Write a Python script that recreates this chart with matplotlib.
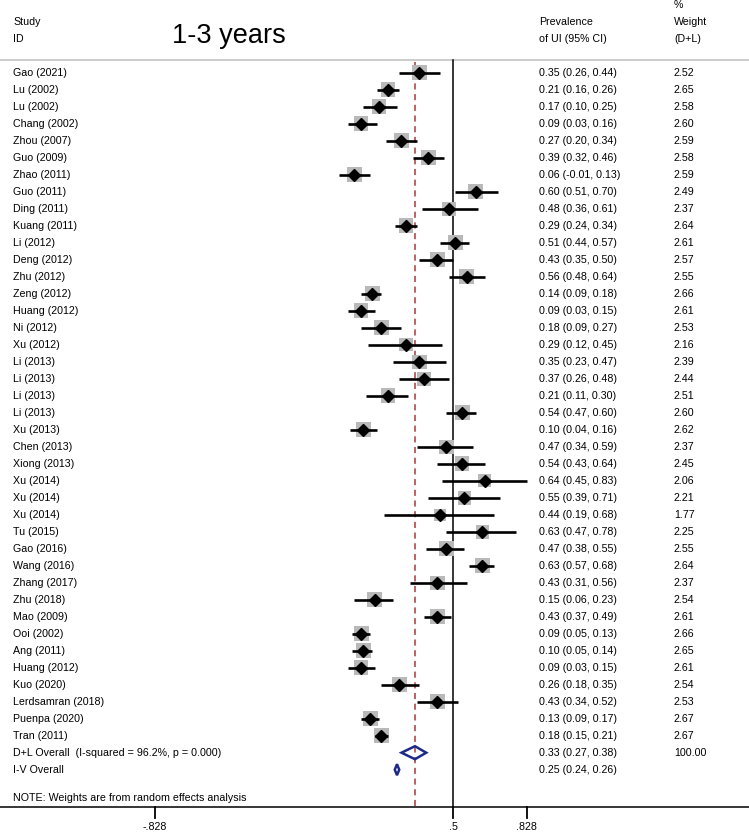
import numpy as np
import matplotlib.pyplot as plt
from matplotlib.patches import Rectangle, Polygon

plt.rcParams['font.family'] = ['Liberation Sans', 'DejaVu Sans']

# Study data
studies = ["Gao (2021)", "Lu (2002)", "Lu (2002)", "Chang (2002)", "Zhou (2007)",
           "Guo (2009)", "Zhao (2011)", "Guo (2011)", "Ding (2011)", "Kuang (2011)",
           "Li (2012)", "Deng (2012)", "Zhu (2012)", "Zeng (2012)", "Huang (2012)",
           "Ni (2012)", "Xu (2012)", "Li (2013)", "Li (2013)", "Li (2013)",
           "Li (2013)", "Xu (2013)", "Chen (2013)", "Xiong (2013)", "Xu (2014)",
           "Xu (2014)", "Xu (2014)", "Tu (2015)", "Gao (2016)", "Wang (2016)",
           "Zhang (2017)", "Zhu (2018)", "Mao (2009)", "Ooi (2002)", "Ang (2011)",
           "Huang (2012)", "Kuo (2020)", "Lerdsamran (2018)", "Puenpa (2020)", "Tran (2011)"]
es = [0.35, 0.21, 0.17, 0.09, 0.27, 0.39, 0.06, 0.60, 0.48, 0.29,
      0.51, 0.43, 0.56, 0.14, 0.09, 0.18, 0.29, 0.35, 0.37, 0.21,
      0.54, 0.10, 0.47, 0.54, 0.64, 0.55, 0.44, 0.63, 0.47, 0.63,
      0.43, 0.15, 0.43, 0.09, 0.10, 0.09, 0.26, 0.43, 0.13, 0.18]
lo = [0.26, 0.16, 0.10, 0.03, 0.20, 0.32, -0.01, 0.51, 0.36, 0.24,
      0.44, 0.35, 0.48, 0.09, 0.03, 0.09, 0.12, 0.23, 0.26, 0.11,
      0.47, 0.04, 0.34, 0.43, 0.45, 0.39, 0.19, 0.47, 0.38, 0.57,
      0.31, 0.06, 0.37, 0.05, 0.05, 0.03, 0.18, 0.34, 0.09, 0.15]
hi = [0.44, 0.26, 0.25, 0.16, 0.34, 0.46, 0.13, 0.70, 0.61, 0.34,
      0.57, 0.50, 0.64, 0.18, 0.15, 0.27, 0.45, 0.47, 0.48, 0.30,
      0.60, 0.16, 0.59, 0.64, 0.83, 0.71, 0.68, 0.78, 0.55, 0.68,
      0.56, 0.23, 0.49, 0.13, 0.14, 0.15, 0.35, 0.52, 0.17, 0.21]
weights = [2.52, 2.65, 2.58, 2.60, 2.59, 2.58, 2.59, 2.49, 2.37, 2.64,
           2.61, 2.57, 2.55, 2.66, 2.61, 2.53, 2.16, 2.39, 2.44, 2.51,
           2.60, 2.62, 2.37, 2.45, 2.06, 2.21, 1.77, 2.25, 2.55, 2.64,
           2.37, 2.54, 2.61, 2.66, 2.65, 2.61, 2.54, 2.53, 2.67, 2.67]

# Pooled estimates
dl_es, dl_lo, dl_hi = 0.33, 0.27, 0.38
iv_es, iv_lo, iv_hi = 0.25, 0.24, 0.26
null_value = 0.5
xticks = [-0.828, 0.5, 0.828]
xticklabels = ["-.828", ".5", ".828"]

# Layout (pixel based, y axis points down)
W, H = 749, 832
x0_px, px_per_unit = 340.8, 224.8
row0, row_step = 72.7, 17.0
top_line = 59.5
axis_y = 807
col_label, col_est, col_wt = 13 / W, 539 / W, 674 / W
fs = 7.7

fig = plt.figure(figsize=(W / 100, H / 100), dpi=100)
ax = fig.add_axes([0, 0, 1, 1])
ax.set_xlim(-x0_px / px_per_unit, (W - x0_px) / px_per_unit)
ax.set_ylim(H, 0)
ax.axis('off')
tr = ax.get_yaxis_transform()  # x in axes fraction, y in data

# Header
ax.text(col_label, 21.7, "Study", transform=tr, fontsize=fs, va='center')
ax.text(col_label, 39.3, "ID", transform=tr, fontsize=fs, va='center')
ax.text(172 / W, 42.7, "1-3 years", transform=tr, fontsize=19.5, va='baseline')
ax.text(col_est, 21.7, "Prevalence", transform=tr, fontsize=fs, va='center')
ax.text(col_est, 39.3, "of UI (95% CI)", transform=tr, fontsize=fs, va='center')
ax.text(col_wt, 5, "%", transform=tr, fontsize=fs, va='center')
ax.text(col_wt, 21.7, "Weight", transform=tr, fontsize=fs, va='center')
ax.text(col_wt, 39.3, "(D+L)", transform=tr, fontsize=fs, va='center')
ax.axhline(top_line, color='#c4c4c4', lw=1.2)

# Reference lines
ax.plot([null_value, null_value], [top_line, axis_y], color='black', lw=1.1)
ax.plot([dl_es, dl_es], [top_line + 2, axis_y], color='#a8383c', lw=1.1,
        dashes=(4, 3))

# Studies
box_k = 9.2  # box side in px per sqrt(weight)
for i, name in enumerate(studies):
    y = row0 + i * row_step
    side = box_k * np.sqrt(weights[i])
    ax.add_patch(Rectangle((es[i] - side / 2 / px_per_unit, y - side / 2),
                           side / px_per_unit, side, facecolor='#b9b9b9',
                           edgecolor='none', zorder=2))
    ax.plot([lo[i], hi[i]], [y, y], color='black', lw=1.9, zorder=3,
            solid_capstyle='butt')
    ax.plot(es[i], y, marker='D', color='black', markersize=6.3, zorder=4)
    ax.text(col_label, y, name, transform=tr, fontsize=fs, va='center')
    ax.text(col_est, y, f"{es[i]:.2f} ({lo[i]:.2f}, {hi[i]:.2f})",
            transform=tr, fontsize=fs, va='center')
    ax.text(col_wt, y, f"{weights[i]:.2f}", transform=tr, fontsize=fs,
            va='center')

# Overall rows
y_dl = row0 + len(studies) * row_step
y_iv = y_dl + row_step
ax.add_patch(Polygon([(dl_lo, y_dl), (dl_es, y_dl - 6.5), (dl_hi, y_dl),
                      (dl_es, y_dl + 6.5)], closed=True, facecolor='none',
                     edgecolor='#1c2a88', lw=1.8, zorder=5))
ax.add_patch(Polygon([(iv_lo, y_iv), (iv_es, y_iv - 5.5), (iv_hi, y_iv),
                      (iv_es, y_iv + 5.5)], closed=True, facecolor='none',
                     edgecolor='#1c2a88', lw=1.8, zorder=5))
ax.text(col_label, y_dl, "D+L Overall  (I-squared = 96.2%, p = 0.000)",
        transform=tr, fontsize=fs, va='center')
ax.text(col_est, y_dl, f"{dl_es:.2f} ({dl_lo:.2f}, {dl_hi:.2f})",
        transform=tr, fontsize=fs, va='center')
ax.text(col_wt, y_dl, "100.00", transform=tr, fontsize=fs, va='center')
ax.text(col_label, y_iv, "I-V Overall", transform=tr, fontsize=fs, va='center')
ax.text(col_est, y_iv, f"{iv_es:.2f} ({iv_lo:.2f}, {iv_hi:.2f})",
        transform=tr, fontsize=fs, va='center')
ax.text(col_label, 798, "NOTE: Weights are from random effects analysis",
        transform=tr, fontsize=fs, va='center')

# x axis
ax.axhline(axis_y, color='black', lw=1.1)
for t, lab in zip(xticks, xticklabels):
    ax.plot([t, t], [axis_y, axis_y + 11], color='black', lw=1.3)
    ax.text(t, 827, lab, fontsize=fs, ha='center', va='center')

plt.savefig('out.png', dpi=100)
plt.close()
